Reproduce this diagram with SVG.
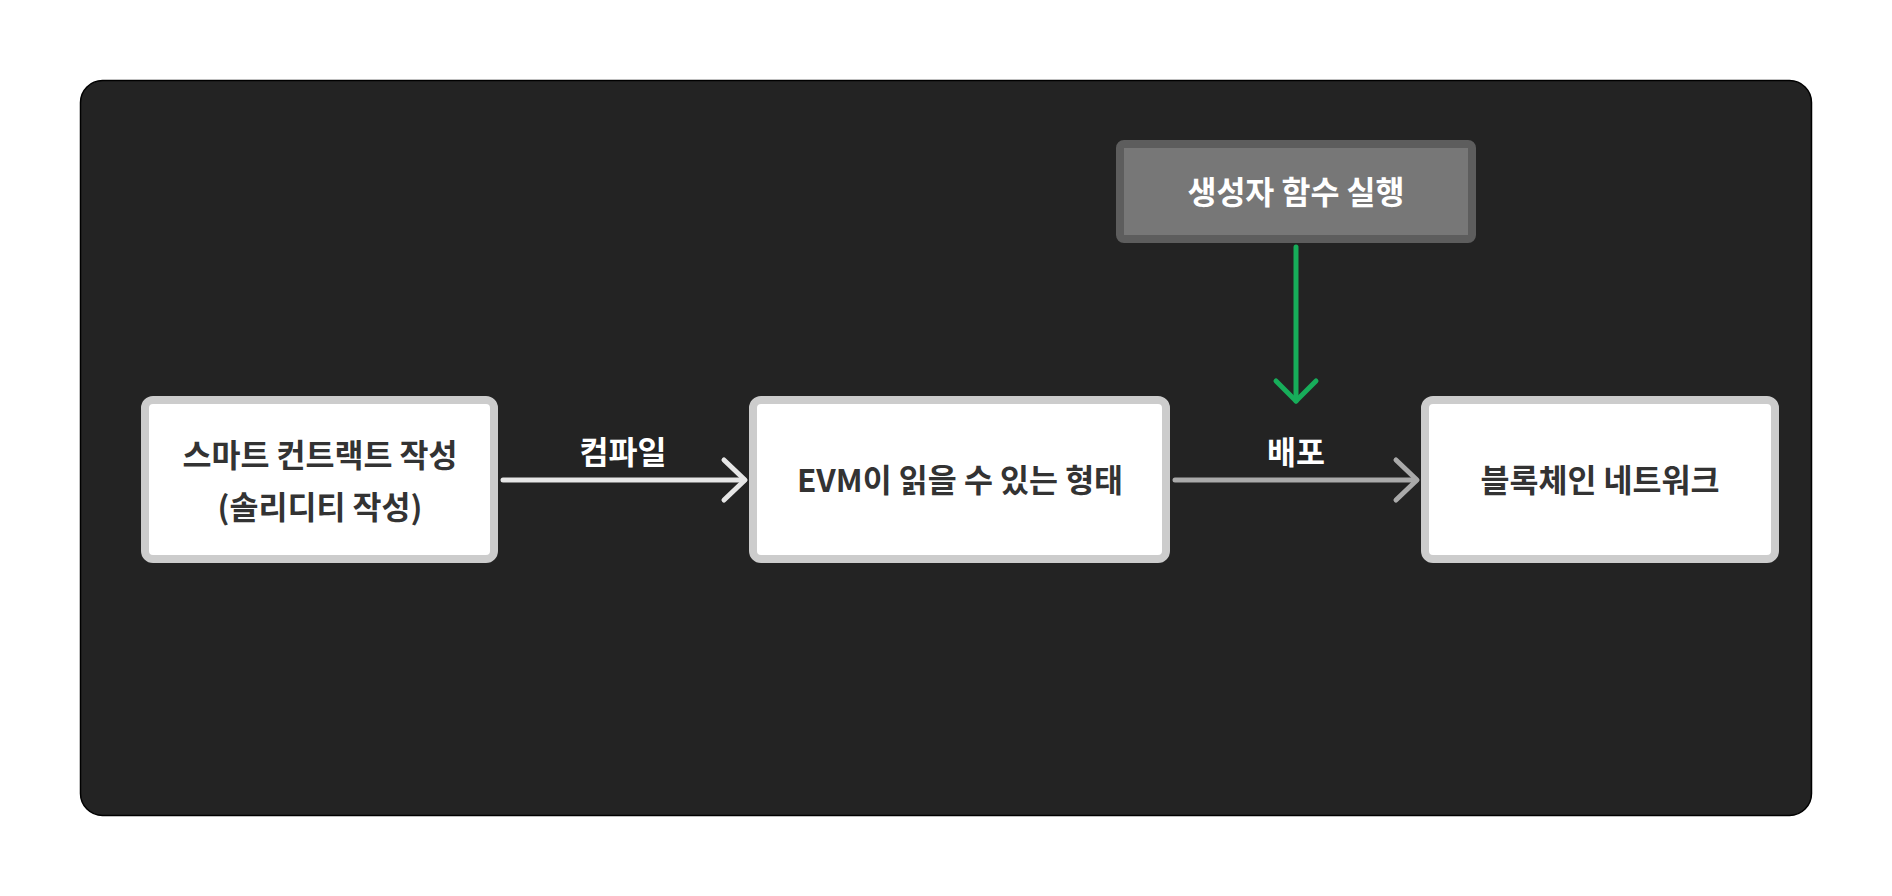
<svg xmlns="http://www.w3.org/2000/svg" width="1892" height="896" viewBox="0 0 1892 896">
<style>
.node rect{fill:#ffffff;stroke:#cccccc;stroke-width:8}
.t{font-family:"Noto Sans CJK KR","Noto Sans",sans-serif;font-weight:700;font-size:31.5px;text-anchor:middle}
.dark{fill:#333333}
.light{fill:#ffffff}
.c{fill:none;stroke-width:5;stroke-linecap:round;stroke-linejoin:round}
</style>
<rect x="0" y="0" width="1892" height="896" fill="#ffffff"/>
<rect id="panel" x="80.5" y="80.5" width="1731" height="735" rx="22" fill="#232323" stroke="#000000" stroke-width="1.5"/>
<g id="connectors">
  <g id="edge-compile">
    <path class="c" d="M503 480 H744" stroke="#e6e6e6"/>
    <path class="c" d="M724 460 L745 480 L724 500" stroke="#e6e6e6"/>
    <text class="t light" x="623" y="464">컴파일</text>
  </g>
  <g id="edge-deploy">
    <path class="c" d="M1175 480 H1416" stroke="#aaaaaa"/>
    <path class="c" d="M1396 460 L1417 480 L1396 500" stroke="#aaaaaa"/>
    <text class="t light" x="1296" y="464">배포</text>
  </g>
  <g id="edge-constructor">
    <path class="c" d="M1296 247 V401" stroke="#17ad5a"/>
    <path class="c" d="M1276 381 L1296 401 L1316 381" stroke="#17ad5a"/>
  </g>
</g>
<g id="node-write" class="node">
  <rect x="145" y="400" width="349" height="159" rx="8"/>
  <text class="t dark" x="320" y="467">스마트 컨트랙트 작성</text>
  <text class="t dark" x="320" y="519">(솔리디티 작성)</text>
</g>
<g id="node-evm" class="node">
  <rect x="753" y="400" width="413" height="159" rx="8"/>
  <text class="t dark" x="960" y="492">EVM이 읽을 수 있는 형태</text>
</g>
<g id="node-network" class="node">
  <rect x="1425" y="400" width="350" height="159" rx="8"/>
  <text class="t dark" x="1600" y="492">블록체인 네트워크</text>
</g>
<g id="node-constructor">
  <rect x="1120" y="144" width="352" height="95" rx="4" fill="#777777" stroke="#5d5d5d" stroke-width="8"/>
  <text class="t light" x="1296" y="204">생성자 함수 실행</text>
</g>
</svg>
